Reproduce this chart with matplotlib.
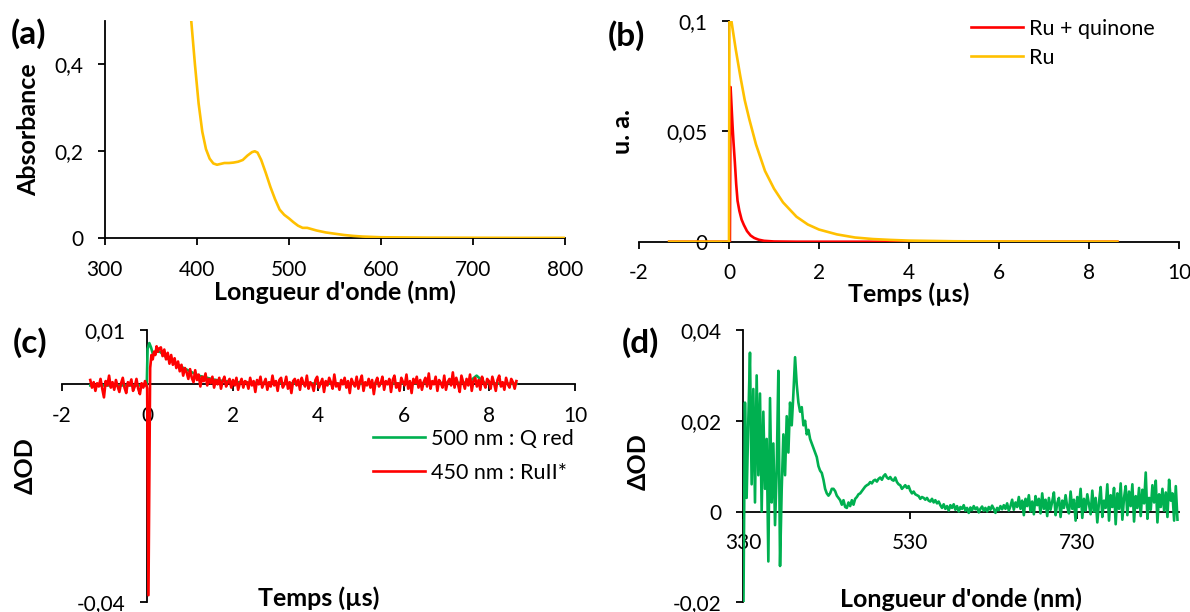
import numpy as np
import matplotlib
matplotlib.use('Agg')
import matplotlib.pyplot as plt

plt.rcParams['font.family'] = ['Lato', 'DejaVu Sans']

YELLOW = '#FFC000'
RED = '#FF0000'
GREEN = '#00B050'

# (a) absorption spectrum
abs_wl = [390, 394, 398, 402, 406, 410, 414, 418, 422, 426, 430, 435, 440, 445,
          450, 455, 460, 463, 466, 470, 475, 480, 485, 490, 495, 500, 505, 510,
          515, 520, 525, 530, 540, 550, 560, 570, 580, 600, 650, 700, 750, 800]
abs_val = [0.56, 0.50, 0.40, 0.31, 0.245, 0.205, 0.183, 0.172, 0.169, 0.171, 0.173,
           0.173, 0.174, 0.176, 0.180, 0.190, 0.198, 0.200, 0.197, 0.180, 0.150,
           0.118, 0.090, 0.066, 0.054, 0.046, 0.037, 0.029, 0.024, 0.024, 0.021,
           0.018, 0.0135, 0.0105, 0.0076, 0.0055, 0.004, 0.0024, 0.0015, 0.0012,
           0.001, 0.001]
abs_xticks = [300, 400, 500, 600, 700, 800]
abs_yticks = [0, 0.2, 0.4]
abs_yticklabels = ['0', '0,2', '0,4']

# (b) emission decays
lum_t_quinone = [-1.33, 0.0, 0.02, 0.035, 0.06, 0.08, 0.10, 0.13, 0.16, 0.19, 0.23,
                 0.28, 0.33, 0.40, 0.48, 0.56, 0.66, 0.78, 1.0, 1.5, 8.63]
lum_quinone = [0, 0, 0, 0.070, 0.060, 0.052, 0.045, 0.036, 0.026, 0.0185, 0.0140,
               0.0100, 0.0076, 0.0048, 0.0028, 0.0017, 0.0009, 0.0004, 0.0001, 0, 0]
lum_t_ru = [-1.33, 0.0, 0.01, 0.06, 0.15, 0.25, 0.35, 0.45, 0.6, 0.8, 1.0, 1.2,
            1.5, 1.75, 2.0, 2.4, 2.8, 3.2, 3.6, 4.0, 5.0, 6.0, 8.63]
lum_ru = [0, 0, 0.105, 0.099, 0.087, 0.075, 0.064, 0.0555, 0.044, 0.032, 0.024,
          0.0178, 0.0113, 0.0078, 0.0055, 0.0033, 0.0019, 0.0012, 0.0008, 0.0005,
          0.0002, 0.0001, 0]
lum_xticks = [-2, 0, 2, 4, 6, 8, 10]
lum_yticks = [0, 0.05, 0.1]
lum_yticklabels = ['0', '0,05', '0,1']

# (c) transient absorption kinetics (mOD)
kin_red_pre = [0.8, -0.6, 0.4, -1.2, 0.2, -0.4, 1.0, -0.8, -2.4, 0.6, -0.2, 1.6,
               -0.6, 0.4, -1.0, 0.8, -0.4, -1.4, 0.2, 1.2, -0.6, -1.6, 0.4, -0.2,
               0.9, -1.2, -0.4, 1.0, -0.8, -1.8, 0.2, -0.6, 0.6, -0.4]
kin_t_spike = [0.0, 0.03, 0.07, 0.10, 0.13, 0.16, 0.19, 0.22, 0.25, 0.28]
kin_red_spike = [-0.8, -38.8, 3.0, 5.4, 4.6, 6.0, 5.4, 7.0, 6.0, 6.6]
kin_red_post = [6.8, 5.2, 6.4, 4.6, 5.8, 3.8, 5.4, 3.6, 4.8, 3.0,
                4.2, 2.4, 3.6, 1.6, 3.0, 2.2, 1.0, 2.8, 1.2, 0.4,
                2.6, 0.8, 1.8, -0.4, 1.4, 0.6, 2.0, -0.2, 1.0, 0.2,
                1.4, -0.6, 0.8, 0.0, 1.2, -0.8, 0.6, 1.4, -0.4, 0.4,
                1.0, -0.6, 0.8, -0.2, 1.2, -1.0, 0.2, 1.0, -0.6, 0.6,
                0.4, -0.8, 1.2, -0.2, 0.6, -1.4, 0.8, 0.0, 1.4, -0.6,
                0.2, 1.0, -1.0, 0.4, -0.4, 1.6, -0.2, 0.6, -1.2, 0.8,
                1.2, -0.6, 0.0, 1.4, -0.8, 0.4, -1.6, 0.6, 1.0, -0.2,
                0.8, -1.0, 1.2, 0.2, -0.4, 1.6, -0.8, 0.4, 0.0, -1.2,
                0.8, 1.4, -0.6, 0.2, 1.0, -1.4, 0.6, -0.2, 1.2, 0.4,
                -0.8, 1.8, -0.4, 0.2, -1.0, 0.8, 0.0, 1.2, -0.6, 0.6,
                -1.6, 1.0, 0.2, -0.4, 1.4, -0.8, 0.6, 1.6, -1.2, 0.4,
                -0.2, 1.0, -0.6, 0.8, -1.8, 0.4, 1.2, -0.4, 0.2, 1.4,
                -1.0, 0.6, 0.0, 1.0, -1.4, 0.8, 1.6, -0.6, 0.2, -1.2,
                1.2, 0.4, -0.2, 1.8, -0.8, 0.6, -1.6, 1.0, 0.2, 1.4,
                -0.6, 0.8, -1.0, 0.4, 1.2, -0.4, 2.0, -0.8, 0.6, 0.0,
                1.4, -1.2, 0.8, 0.2, -0.6, 1.6, -1.0, 0.4, 1.0, -0.2,
                2.2, -0.6, 1.2, 0.0, -1.4, 1.6, 0.4, -0.8, 1.0, -0.2,
                1.8, -1.2, 0.6, 1.2, -0.4, 0.8, -1.0, 1.4, 0.2, -0.6,
                1.0, 0.6, -0.8, 1.4, 0.2, -1.2, 0.8, 1.6, -0.4, 0.4,
                -1.0, 1.2, 0.0, -0.6, 1.0, 0.4, -0.8, 0.6]
kin_t_green = [-1.33, -0.01, 0.01, 0.05, 0.09, 0.14, 0.2, 0.3, 0.5, 0.8, 1.2, 1.6,
               2.0, 3.0, 5.0, 7.5, 7.7, 7.9, 8.63]
kin_green = [-0.2, -0.2, 6.5, 7.6, 6.8, 5.4, 6.0, 6.0, 4.6, 3.2, 1.6, 0.8, 0.4, 0.2,
             0.1, 0.3, 1.6, 0.2, 0.1]
kin_xticks = [-2, 0, 2, 4, 6, 8, 10]
kin_yticks = [-0.04, 0.01]
kin_yticklabels = ['-0,04', '0,01']

# (d) transient spectrum, 2 nm steps from 330 nm (mOD)
spec_start = 330
spec_val = [-25, 24, 3, 20, 35, 6, 27, 2, 30, 8,
            26, 0, 22, 5, 16, -11, 25, 2, 15, -3,
            9, 31, -12, 5, 17, 8, 21, 13, 24, 19,
            26, 34, 28, 24, 22, 23, 19, 20, 17, 18,
            16, 15, 14, 13, 12, 10, 9, 8.5, 7, 5,
            4, 3.5, 4, 5, 5, 4.5, 3.5, 3, 2.5, 1.5,
            2.5, 1, 0.8, 2, 1.2, 2.5, 1.5, 2.8, 3.2, 3.8,
            4, 4.5, 5, 5.5, 5.8, 6, 6.5, 6.2, 6.8, 7,
            6.6, 7.2, 7.5, 7.0, 7.8, 8.2, 7.5, 7.2, 7.6, 7.0,
            6.8, 7.5, 6.5, 6.0, 5.8, 5.0, 5.4, 5.8, 5.2, 5.6,
            4.6, 4.0, 4.4, 3.8, 3.6, 3.4, 2.8, 3.2, 3.0, 2.6,
            3.0, 2.4, 2.2, 2.8, 2.0, 2.5, 1.8, 2.2, 1.4, 0.8,
            1.6, 0.6, 1.2, 0.2, 1.4, 0.8, 1.6, 0.4, 1.2, 0.0,
            1.0, 0.6, 1.4, 0.2, 0.8, -0.3, 0.9, 0.3, 1.2, 0.5,
            0.9, -0.2, 0.6, 1.1, 0.2, 0.8, 0.0, 1.0, 0.4, 1.3,
            0.6, -0.3, 0.8, 0.3, 1.2, 0.5, 1.4, 0.6, 1.8, 0.2,
            1.2, 2.6, 0.4, 2.0, 1.0, 3.2, 0.6, 2.4, -0.8, 2.8,
            1.2, 3.6, 0.0, 2.2, -0.6, 3.4, 1.4, 2.8, -0.4, 4.0,
            0.6, 2.6, -1.0, 3.0, 0.4, 2.2, 4.2, -0.8, 1.8, 3.0,
            -1.2, 2.4, 0.8, 3.6, 1.0, -0.4, 4.4, 0.6, 2.6, -2.0,
            3.2, 1.0, 5.0, -1.4, 2.8, 0.2, 3.8, 1.6, -0.6, 4.6,
            0.0, 3.0, -2.4, 2.0, 5.4, -1.2, 2.4, 0.8, 6.0, -2.0,
            3.6, 1.0, 5.2, -2.8, 4.0, 0.6, 6.2, -1.8, 3.0, 5.6,
            -0.8, 4.4, 1.2, 6.0, -2.2, 3.4, 0.8, 5.2, -1.0, 4.8,
            1.8, 8.6, -1.6, 3.0, 0.4, 5.8, 2.0, 6.8, -2.4, 3.8,
            1.0, 5.0, 0.2, 4.2, -1.2, 7.0, 2.4, 4.0, -2.0, 5.6,
            -1.8]
spec_xticks = [330, 530, 730]
spec_yticks = [-0.02, 0, 0.02, 0.04]
spec_yticklabels = ['-0,02', '0', '0,02', '0,04']

W, H = 1190, 612
fig = plt.figure(figsize=(W / 100, H / 100), dpi=100)


def rect(x0, x1, ytop, ybot):
    return [x0 / W, 1 - ybot / H, (x1 - x0) / W, (ybot - ytop) / H]


def style(ax):
    for s in ['top', 'right']:
        ax.spines[s].set_visible(False)
    for s in ['left', 'bottom']:
        ax.spines[s].set_linewidth(1.3)
    ax.tick_params(direction='out', length=5, width=1.3, labelsize=15, pad=10.5)


def labels(ax, xl, xpos, yl, ypos):
    ax.set_xlabel(xl, fontsize=18, fontweight='bold', va='center')
    ax.xaxis.set_label_coords(*xpos)
    ax.set_ylabel(yl, fontsize=18, fontweight='bold', va='center')
    ax.yaxis.set_label_coords(*ypos)


lw = 1.9

# (a)
ax = fig.add_axes(rect(104.7, 565, 20.7, 238.3))
style(ax)
ax.plot(abs_wl, abs_val, color=YELLOW, lw=lw, zorder=3)
ax.set_xlim(300, 800)
ax.set_ylim(0, 0.5)
ax.set_xticks(abs_xticks)
ax.set_yticks(abs_yticks)
ax.set_yticklabels(abs_yticklabels)
labels(ax, "Longueur d'onde (nm)", (0.5, -0.248), 'Absorbance', (-0.1645, 0.5))

# (b)
ax = fig.add_axes(rect(639, 1179, 20.7, 241.7))
style(ax)
ax.spines['left'].set_position(('data', 0))
ax.plot(lum_t_quinone, lum_quinone, color=RED, lw=lw, zorder=3, label='Ru + quinone')
ax.plot(lum_t_ru, lum_ru, color=YELLOW, lw=lw, zorder=3, label='Ru')
ax.set_xlim(-2, 10)
ax.set_ylim(0, 0.1)
ax.set_xticks(lum_xticks)
ax.set_xticklabels([str(v) for v in lum_xticks])
ax.set_yticks(lum_yticks)
ax.set_yticklabels(lum_yticklabels)
labels(ax, 'Temps (µs)', (0.5, -0.236), 'u. a.', (-0.031, 0.5))
ax.legend(loc='upper left', bbox_to_anchor=(971 / W, 1 - 19 / H),
          bbox_transform=fig.transFigure, frameon=False, fontsize=15.5,
          borderpad=0, borderaxespad=0, handlelength=2.4, handletextpad=0.3,
          labelspacing=0.4)

# (c)
ax = fig.add_axes(rect(61.6, 575, 330, 601.7))
style(ax)
ax.spines['left'].set_position(('data', 0))
ax.spines['bottom'].set_position(('data', 0))
t_red = np.concatenate([np.linspace(-1.33, -0.01, len(kin_red_pre)), kin_t_spike,
                        np.linspace(0.32, 8.63, len(kin_red_post))])
red = np.concatenate([kin_red_pre, kin_red_spike, kin_red_post]) / 1000
ax.plot(kin_t_green, np.array(kin_green) / 1000, color=GREEN, lw=lw, zorder=3,
        label='500 nm : Q red')
ax.plot(t_red, red, color=RED, lw=lw, zorder=3, label='450 nm : RuII*')
ax.set_xlim(-2, 10)
ax.set_ylim(-0.04, 0.01)
ax.set_xticks(kin_xticks)
ax.set_xticklabels([str(v) for v in kin_xticks])
ax.set_yticks(kin_yticks)
ax.set_yticklabels(kin_yticklabels)
labels(ax, 'Temps (µs)', (0.5, 0.0136), 'ΔOD', (-0.0713, 0.5))
ax.legend(loc='upper left', bbox_to_anchor=(373 / W, 1 - 429 / H),
          bbox_transform=fig.transFigure, frameon=False, fontsize=15.5,
          borderpad=0, borderaxespad=0, handlelength=2.4, handletextpad=0.3,
          labelspacing=0.65)

# (d)
ax = fig.add_axes(rect(743.3, 1178.8, 330, 602.3))
style(ax)
ax.spines['bottom'].set_position(('data', 0))
wl = spec_start + 2 * np.arange(len(spec_val))
ax.plot(wl, np.array(spec_val) / 1000, color=GREEN, lw=lw, zorder=3)
ax.set_xlim(330, 851.6)
ax.set_ylim(-0.02, 0.04)
ax.set_xticks(spec_xticks)
ax.set_xticklabels([str(v) for v in spec_xticks])
ax.set_yticks(spec_yticks)
ax.set_yticklabels(spec_yticklabels)
labels(ax, "Longueur d'onde (nm)", (0.5, 0.012), 'ΔOD', (-0.241, 0.516))

# panel letters
for txt, x, y in [('(a)', 11, 34), ('(b)', 608, 36), ('(c)', 13, 343), ('(d)', 622, 343)]:
    fig.text(x / W, 1 - y / H, txt, fontsize=24, fontweight='bold', ha='left', va='center')

fig.savefig('out.png', dpi=100)
